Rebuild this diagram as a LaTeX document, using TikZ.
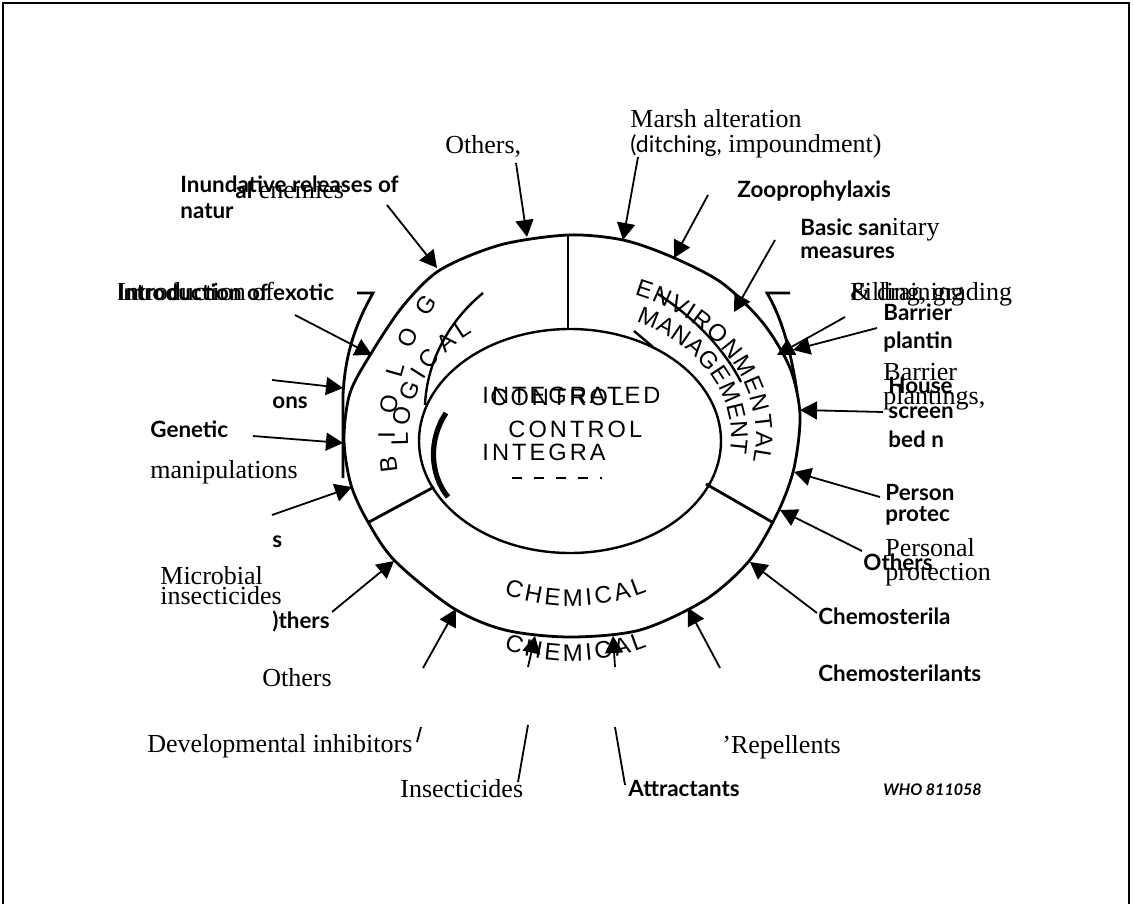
\documentclass[tikz,border=0pt]{standalone}
\usepackage{fontspec}
\setmainfont{Liberation Serif}
\newfontfamily\gillfont{Lato}
\newfontfamily\helvfont[LetterSpace=13]{Liberation Sans}
\usetikzlibrary{arrows.meta,decorations.text}
\newcommand\ringtxt{\helvfont\fontsize{12}{14}\selectfont}

\tikzset{
  serif/.style={anchor=base west,inner sep=0pt,font=\fontsize{13}{15}\selectfont},
  sans/.style={anchor=base west,inner sep=0pt,font=\gillfont\bfseries\fontsize{11.2}{12}\selectfont},
  centre/.style={anchor=base west,inner sep=0pt,font=\helvfont\fontsize{11.8}{13}\selectfont},
  wholab/.style={anchor=base west,inner sep=0pt,font=\gillfont\bfseries\itshape\fontsize{8}{9}\selectfont},
  ring/.style={line width=1.4pt},
  arr/.style={-{Triangle[length=8.5pt,width=9pt]},line width=0.9pt},
  ringtext/.style={decorate,decoration={text along path,text align=fit to path,
    text={|\ringtxt|#1}}}
}

\begin{document}
\begin{tikzpicture}[x=0.5pt,y=-0.5pt]
\useasboundingbox (0,0) rectangle (1133,904);
\draw[line width=1pt] (3,904) -- (3,3) -- (1129,3) -- (1129,904);

% the two rings
\draw[ring] plot[smooth cycle] coordinates {(568,235) (623,240) (672,257) (722,283)
  (763,323) (790,368) (800,415) (794,468) (778,512) (749,561) (705,600) (640,630)
  (570,637) (505,630) (453,608) (395,561) (368,522) (351,485) (344,440) (350,393)
  (372,352) (403,306) (440,270) (500,245)};
\draw[line width=1.2pt] (570,441) ellipse [x radius=151, y radius=112];

% sector dividers
\draw[ring] (568,235) -- (568,329);
\draw[ring] (434,487) -- (369,522);
\draw[ring] (706,484) -- (772,522);

% doubled strokes of the print
\draw[ring] (357,293) -- (373,293) .. controls (355,325) and (345,355) .. (343,395) -- (343,478);
\draw[ring] (790,293) -- (767,293) .. controls (780,315) and (790,345) .. (797,392);
\draw[line width=1.2pt] (483,293) .. controls (450,320) and (427,360) .. (425,405);
\draw[line width=1.2pt] (658,294) .. controls (690,315) and (722,345) .. (741,382);
\draw[line width=1.2pt] (634,331) -- (653,347);
\draw[line width=2.6pt] (446,413) .. controls (428,440) and (430,475) .. (448,497);
\draw[line width=1.2pt,dash pattern=on 5pt off 6pt] (512,478) -- (602,478);

% sector names
\path[ringtext={BIOLOG}] (571,436) ++(170:176 and 204)
  arc[start angle=170,end angle=221,x radius=176,y radius=204];
\path[ringtext={LOGICAL}] (571,436) ++(176:163 and 130)
  arc[start angle=176,end angle=233,x radius=163,y radius=130];
\path[ringtext={ENVIRONMENTAL}] (571,436) ++(-70:185 and 150)
  arc[start angle=-70,end angle=10,x radius=185,y radius=150];
\path[ringtext={MANAGEMENT}] (571,436) ++(-66:160 and 125)
  arc[start angle=-66,end angle=8,x radius=160,y radius=125];
\path[ringtext={CHEMICAL}] (571,436) ++(111:187 and 170)
  arc[start angle=111,end angle=66,x radius=187,y radius=170];
\path[ringtext={CHEMICAL}] (571,491) ++(111:187 and 170)
  arc[start angle=111,end angle=66,x radius=187,y radius=170];

\node[centre] (integ) at (482,403) {INTEGRATED};
\node[centre] (contr) at (490,405) {CONTROL};
\node[centre] (contr2) at (508,437) {CONTROL};
\node[centre] (integ2) at (482,460) {INTEGRA};

% labels
\node[serif] (oth1) at (445,153) {Others,};
\node[serif] (marsh) at (630,127) {Marsh alteration};
\node[serif] (ditch) at (630,152) {{\gillfont\fontsize{11.5}{13}\selectfont(ditching,} impoundment)};
\node[sans] (inund) at (180,192) {Inundative releases of};
\node[sans] (natur) at (180,218) {natur};
\node[serif] (enem) at (235,198) {{\gillfont\bfseries\fontsize{11.2}{12}\selectfont al} enemies};
\node[sans] (zoo) at (737,197) {Zooprophylaxis};
\node[serif] (basic) at (800,235) {{\gillfont\bfseries\fontsize{11.2}{12}\selectfont Basic san}itary};
\node[sans] (meas) at (800,258) {measures};
\node[serif] (fill) at (850,300) {Filling, grading};
\node[serif] (drain) at (850,300) {\& draining};
\node[sans] (barr) at (883,320) {Barrier};
\node[sans] (plant) at (883,348) {plantin};
\node[serif] (barr2) at (883,380) {Barrier};
\node[sans] (house) at (888,393) {House};
\node[serif] (plant2) at (883,404) {plantings,};
\node[sans] (screen) at (888,418) {screen};
\node[sans] (bed) at (888,447) {bed n};
\node[sans] (pers) at (885,500) {Person};
\node[sans] (prot) at (885,521) {protec};
\node[serif] (pers2) at (885,556) {Personal};
\node[sans] (oth2) at (863,570) {Others};
\node[serif] (prot2) at (885,580) {protection};
\node[sans] (chem1) at (818,624) {Chemosterila};
\node[sans] (chem2) at (818,681) {Chemosterilants};
\node[serif] (repel) at (722,753) {'Repellents};
\node[sans] (attr) at (628,796) {Attractants};
\node[wholab] (who) at (883,795) {WHO 811058};
\node[serif] (insec) at (400,797) {Insecticides};
\node[serif] (devel) at (147,752) {Developmental inhibitors};
\node[serif] (oth3) at (262,686) {Others};
\node[sans] (oth4) at (272,628) {)thers};
\node[serif] (micro) at (160,584) {Microbial};
\node[serif] (micro2) at (160,604) {insecticides};
\node[sans] (sfrag) at (272,547) {s};
\node[serif] (manip) at (150,478) {manipulations};
\node[sans] (genet) at (150,437) {Genetic};
\node[sans] (ons) at (272,408) {ons};
\node[sans] (intro) at (117,300) {Introduction of exotic};
\node[serif] (intro2) at (117,300) {Introduction of};

% arrow ends
\coordinate (othS) at (516,163); \coordinate (othT) at (527,237);
\coordinate (marS) at (638,157); \coordinate (marT) at (623,240);
\coordinate (zooS) at (708,195); \coordinate (zooT) at (674,258);
\coordinate (basS) at (775,240); \coordinate (basT) at (734,312);
\coordinate (filS) at (845,317); \coordinate (filT) at (777,355);
\coordinate (barS) at (877,328); \coordinate (barT) at (793,350);
\coordinate (houS) at (883,412); \coordinate (houT) at (800,410);
\coordinate (perS) at (880,497); \coordinate (perT) at (794,472);
\coordinate (otrS) at (862,551); \coordinate (otrT) at (780,510);
\coordinate (cheS) at (817,613); \coordinate (cheT) at (750,562);
\coordinate (repS) at (720,668); \coordinate (repT) at (688,608);
\coordinate (attS) at (615,667); \coordinate (attT) at (613,636);
\coordinate (insS) at (528,667); \coordinate (insT) at (535,636);
\coordinate (devS) at (423,668); \coordinate (devT) at (456,609);
\coordinate (oldS) at (332,612); \coordinate (oldT) at (394,561);
\coordinate (sS) at (272,515); \coordinate (sT) at (352,487);
\coordinate (genS) at (253,436); \coordinate (genT) at (343,443);
\coordinate (onsS) at (272,380); \coordinate (onsT) at (343,388);
\coordinate (intS) at (295,315); \coordinate (intT) at (372,355);
\coordinate (inuS) at (387,205); \coordinate (inuT) at (437,268);

\foreach \a in {oth,mar,zoo,bas,fil,bar,hou,per,otr,che,rep,att,ins,dev,old,s,gen,ons,int,inu}
  \draw[arr] (\a S) -- (\a T);

% loose pieces of leader lines
\coordinate (devA) at (421,727); \coordinate (devB) at (417,742);
\coordinate (insA) at (528,725); \coordinate (insB) at (518,782);
\coordinate (attA) at (615,727); \coordinate (attB) at (625,785);
\draw[line width=0.9pt] (devA) -- (devB);
\draw[line width=0.9pt] (insA) -- (insB);
\draw[line width=0.9pt] (attA) -- (attB);
\end{tikzpicture}
\end{document}
